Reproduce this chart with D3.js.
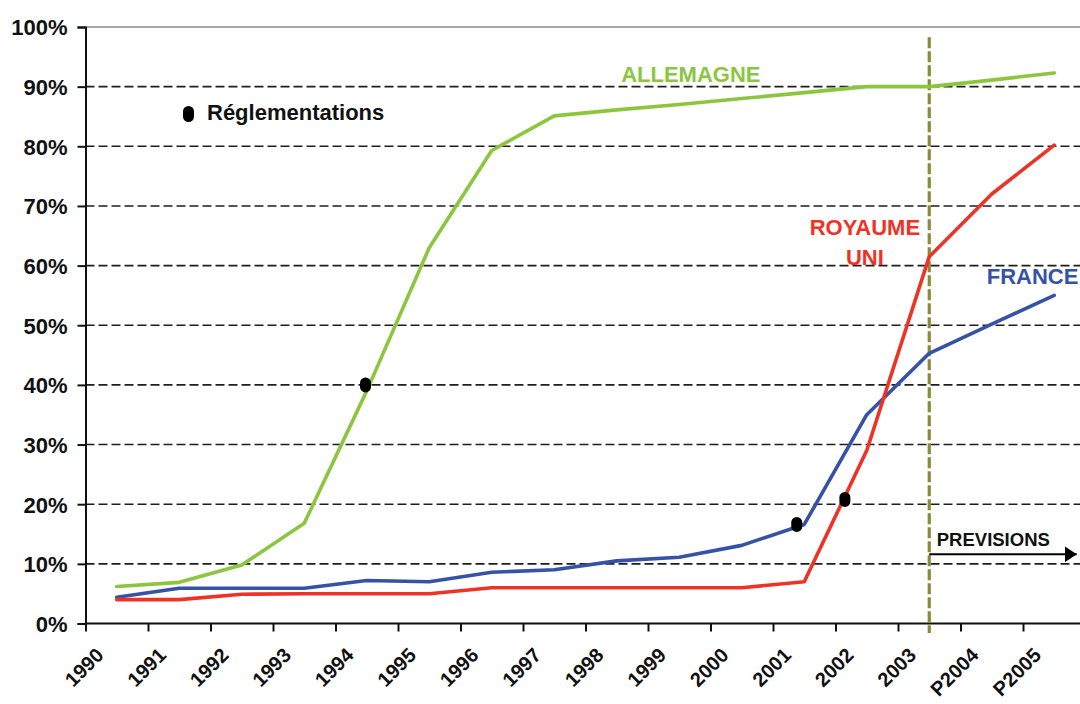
<!DOCTYPE html>
<html>
<head>
<meta charset="utf-8">
<script src="https://cdn.jsdelivr.net/npm/d3@7"></script>
<style>
  html, body { margin: 0; padding: 0; background: #fff; }
  svg { display: block; font-family: "Liberation Sans", Arial, sans-serif; }
</style>
</head>
<body>
<svg id="chart" width="1080" height="704"></svg>
<script>
// ---- data ----
const categories = ["1990","1991","1992","1993","1994","1995","1996","1997","1998","1999","2000","2001","2002","2003","P2004","P2005"];
const allemagne  = [6.2, 6.9, 9.8, 16.8, 39.0, 63.0, 79.3, 85.1, 86.1, 87.0, 88.0, 89.0, 90.0, 90.0, 91.1, 92.3];
const france     = [4.4, 5.9, 5.9, 5.9, 7.2, 7.0, 8.6, 9.0, 10.5, 11.1, 13.1, 16.6, 35.0, 45.3, 50.2, 55.0];
const royaumeUni = [4.0, 4.0, 4.9, 5.0, 5.0, 5.0, 6.0, 6.0, 6.0, 6.0, 6.0, 7.0, 29.0, 61.5, 72.0, 80.2];
const yTicks     = [0, 10, 20, 30, 40, 50, 60, 70, 80, 90, 100];
// regulation markers: category index (fractional) and value
const regIndex   = [3.98, 10.88, 11.65];
const regValue   = [40.0, 16.6, 20.8];
const forecastStartIndex = 13; // 2003

// ---- layout ----
const W = 1080, H = 704;
const mLeft = 85.5, mTop = 27, mBottom = 623.5, mRight = 1085.5;
const svg = d3.select("#chart");

const x = d3.scaleLinear().domain([-0.5, categories.length - 0.5]).range([mLeft, mRight]);
const y = d3.scaleLinear().domain([0, 100]).range([mBottom, mTop]);

const FONT = "bold 22px 'Liberation Sans', Arial, sans-serif";

// gridlines (dashed)
svg.append("g").selectAll("line")
  .data(yTicks.filter(d => d > 0 && d < 100))
  .join("line")
  .attr("x1", mLeft).attr("x2", W)
  .attr("y1", d => y(d)).attr("y2", d => y(d))
  .attr("stroke", "#1e1e1e").attr("stroke-width", 1.6)
  .attr("stroke-dasharray", "9,4");

// top border of plot area
svg.append("line")
  .attr("x1", mLeft).attr("x2", W)
  .attr("y1", y(100)).attr("y2", y(100))
  .attr("stroke", "#8a8a8a").attr("stroke-width", 1.5);

// y axis
const yAxis = svg.append("g")
  .attr("transform", `translate(${mLeft},0)`)
  .call(d3.axisLeft(y).tickValues(yTicks).tickFormat(d => d + "%").tickSize(8).tickPadding(10));
yAxis.select(".domain").attr("stroke", "#111").attr("stroke-width", 2);
yAxis.selectAll(".tick line").attr("stroke", "#111").attr("stroke-width", 2);
yAxis.selectAll(".tick text")
  .style("font", FONT).attr("fill", "#111").attr("dy", "0.36em");

// x axis (ticks at category boundaries)
const boundaries = d3.range(categories.length + 1).map(i => i - 0.5);
const xAxis = svg.append("g")
  .attr("transform", `translate(0,${mBottom})`)
  .call(d3.axisBottom(x).tickValues(boundaries).tickFormat("").tickSize(8).tickSizeOuter(0));
xAxis.select(".domain").attr("stroke", "#111").attr("stroke-width", 2)
  .attr("d", `M${mLeft},0H${W}`);
xAxis.selectAll(".tick line").attr("stroke", "#111").attr("stroke-width", 2);

// x labels rotated
svg.append("g").selectAll("text")
  .data(categories)
  .join("text")
  .attr("transform", (d, i) => `translate(${x(i) - 12},${mBottom + 33}) rotate(-45)`)
  .attr("text-anchor", "end")
  .style("font", "bold 20px 'Liberation Sans', Arial, sans-serif")
  .attr("fill", "#111")
  .text(d => d);

// forecast vertical line
svg.append("line")
  .attr("x1", x(forecastStartIndex)).attr("x2", x(forecastStartIndex))
  .attr("y1", y(98.3)).attr("y2", y(-1.6))
  .attr("stroke", "#8b8a38").attr("stroke-width", 3.2)
  .attr("stroke-dasharray", "11,3");

// series lines
const line = d3.line().x((d, i) => x(i)).y(d => y(d));
const series = [
  { values: allemagne,  color: "#8cc63f" },
  { values: france,     color: "#3552a6" },
  { values: royaumeUni, color: "#ee3226" }
];
svg.append("g").selectAll("path")
  .data(series)
  .join("path")
  .attr("d", d => line(d.values))
  .attr("fill", "none")
  .attr("stroke", d => d.color)
  .attr("stroke-width", 3.6)
  .attr("stroke-linejoin", "round")
  .attr("stroke-linecap", "round");

// regulation markers
svg.append("g").selectAll("rect")
  .data(regIndex.map((d, i) => [d, regValue[i]]))
  .join("rect")
  .attr("x", d => x(d[0]) - 5.5).attr("y", d => y(d[1]) - 7.5)
  .attr("width", 11).attr("height", 15).attr("rx", 5.5)
  .attr("fill", "#000");

// legend
svg.append("rect").attr("x", 183).attr("y", 106).attr("width", 11).attr("height", 16).attr("rx", 5.5).attr("fill", "#000");
svg.append("text").attr("x", 207).attr("y", 120)
  .style("font", FONT).attr("fill", "#111").text("Réglementations");

// series labels (anchored in data space)
function label(txt, i, v, color, anchor) {
  svg.append("text").attr("x", x(i)).attr("y", y(v))
    .attr("text-anchor", anchor)
    .style("font", FONT).attr("fill", color).text(txt);
}
label("ALLEMAGNE", 8.07, 90.8, "#8cc63f", "start");
label("ROYAUME", 11.97, 65.1, "#ee3226", "middle");
label("UNI", 11.97, 60.1, "#ee3226", "middle");
label("FRANCE", 13.92, 56.9, "#3552a6", "start");

// PREVISIONS arrow
svg.append("defs").append("marker")
  .attr("id", "arrow").attr("viewBox", "0 0 12 16")
  .attr("refX", 12).attr("refY", 8)
  .attr("markerWidth", 12).attr("markerHeight", 16)
  .attr("markerUnits", "userSpaceOnUse")
  .attr("orient", "auto")
  .append("path").attr("d", "M0,0L12,8L0,16Z").attr("fill", "#000");
svg.append("line")
  .attr("x1", x(forecastStartIndex)).attr("x2", x(15.36))
  .attr("y1", y(11.6)).attr("y2", y(11.6))
  .attr("stroke", "#000").attr("stroke-width", 2)
  .attr("marker-end", "url(#arrow)");
svg.append("text").attr("x", x(13.12)).attr("y", y(13.0))
  .style("font", "bold 18.5px 'Liberation Sans', Arial, sans-serif")
  .attr("fill", "#111").text("PREVISIONS");
</script>
</body>
</html>
